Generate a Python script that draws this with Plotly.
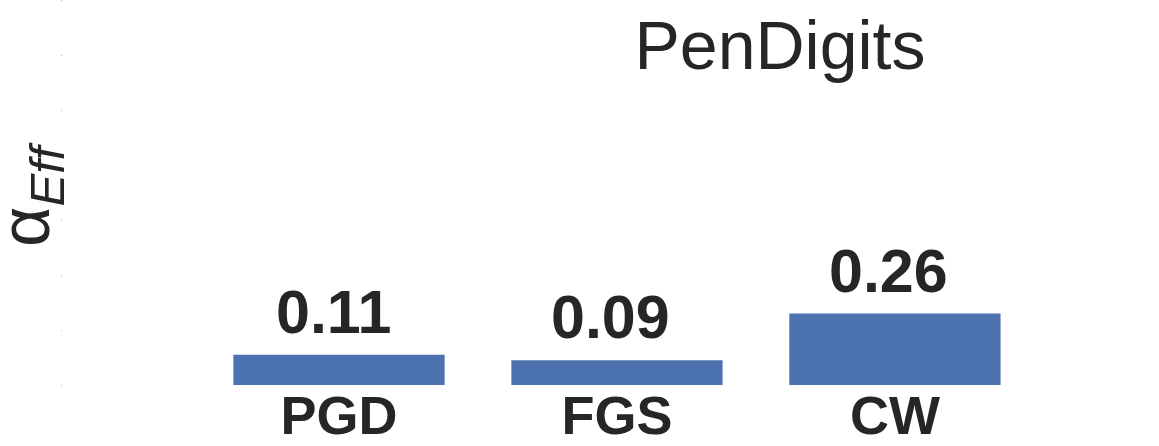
from plotly import graph_objects as go

attacks = ['PGD', 'FGS', 'CW']
alpha_eff = [0.11, 0.09, 0.26]
labels = ['0.11', '0.09', '0.26']

FONT = 'Liberation Sans, Arial, sans-serif'
DARK = '#262626'

bars = go.Bar(
    x=attacks,
    y=alpha_eff,
    width=0.76,
    marker=dict(color='#4C72B0', line=dict(width=0)),
    showlegend=False,
    hoverinfo='skip'
)

layout = go.Layout(
    width=1159,
    height=446,
    margin=dict(l=63, r=0, t=0, b=61),
    paper_bgcolor='white',
    plot_bgcolor='white',
    font=dict(family=FONT, color=DARK),
    title=dict(
        text='PenDigits',
        font=dict(size=68, color=DARK, family=FONT),
        x=780 / 1159,
        xanchor='center',
        y=1 - 45 / 446,
        yanchor='middle',
        xref='container',
        yref='container'
    ),
    xaxis=dict(
        range=[-0.993, 2.95],
        showgrid=False,
        showline=False,
        zeroline=False,
        ticks='',
        automargin=False,
        ticklabelstandoff=-6,
        tickfont=dict(size=54, family=FONT, color=DARK, weight='bold'),
    ),
    yaxis=dict(
        range=[0, 1.4],
        dtick=0.2,
        showgrid=False,
        showline=False,
        zeroline=False,
        showticklabels=False,
        automargin=False,
        ticks='outside',
        ticklen=1,
        tickwidth=1,
        tickcolor='#bbbbbb',
    ),
)

fig = go.Figure([bars], layout)

for name, val, lab in zip(attacks, alpha_eff, labels):
    fig.add_annotation(
        x=name, y=val, text=lab,
        showarrow=False,
        yanchor='bottom',
        yshift=7,
        xshift=-6,
        font=dict(size=61, family=FONT, color=DARK, weight='bold')
    )

# y label, placed in pixel terms relative to the plot area
fig.add_annotation(
    x=(30 - 63) / 1096, y=1 - 195 / 385, xref='paper', yref='paper',
    xanchor='center', yanchor='middle',
    text='α<sub><i>Eff</i></sub>',
    textangle=-90,
    showarrow=False,
    font=dict(size=70, family=FONT, color=DARK)
)

fig.write_html('out.html', config={'displayModeBar': False},
               post_script="document.body.style.margin='0';")
